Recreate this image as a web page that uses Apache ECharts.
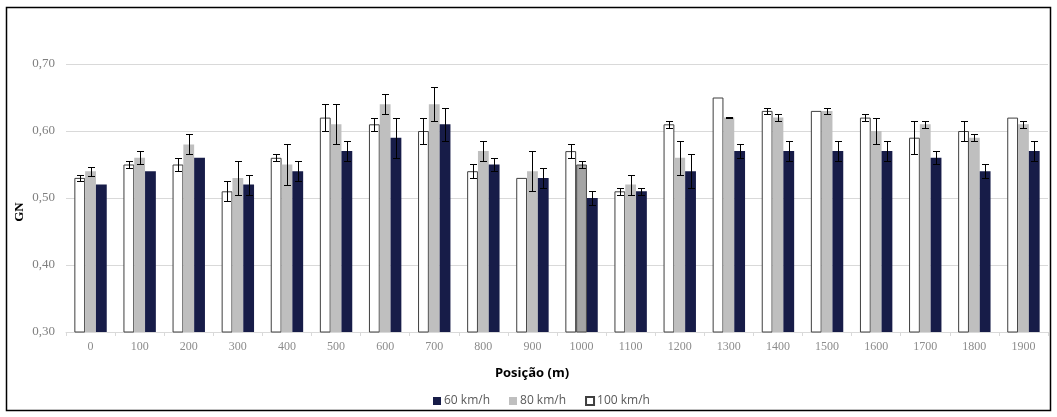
<!DOCTYPE html>
<html>
<head>
<meta charset="utf-8">
<script src="https://cdn.jsdelivr.net/npm/echarts@6/dist/echarts.min.js"></script>
<style>
  html, body { margin: 0; padding: 0; background: #fff; }
  #chart { width: 1057px; height: 417px; }
</style>
</head>
<body>
<div id="chart"></div>
<script>
// Position along the road (m)
const categories = ['0','100','200','300','400','500','600','700','800','900','1000','1100','1200','1300','1400','1500','1600','1700','1800','1900'];

// GN means and error half-widths per speed
const gn100 = [0.53,0.55,0.55,0.51,0.56,0.62,0.61,0.60,0.54,0.53,0.57,0.51,0.61,0.65,0.63,0.63,0.62,0.59,0.60,0.62];
const err100 = [0.005,0.005,0.01,0.015,0.005,0.02,0.01,0.02,0.01,0,0.01,0.005,0.005,0,0.005,0,0.005,0.025,0.015,0];
const gn80 = [0.54,0.56,0.58,0.53,0.55,0.61,0.64,0.64,0.57,0.54,0.55,0.52,0.56,0.62,0.62,0.63,0.60,0.61,0.59,0.61];
const err80 = [0.0065,0.01,0.015,0.025,0.03,0.03,0.015,0.025,0.015,0.03,0.005,0.015,0.025,0.0005,0.005,0.005,0.02,0.005,0.005,0.005];
const gn60 = [0.52,0.54,0.56,0.52,0.54,0.57,0.59,0.61,0.55,0.53,0.50,0.51,0.54,0.57,0.57,0.57,0.57,0.56,0.54,0.57];
const err60 = [0,0,0,0.015,0.015,0.015,0.03,0.025,0.01,0.015,0.01,0.005,0.025,0.01,0.015,0.015,0.015,0.01,0.01,0.015];

const yTicks = [0.30, 0.40, 0.50, 0.60, 0.70];

const BAR_FRAC = 0.22;          // share of the category band per bar
const SERIF = '"Liberation Serif", "DejaVu Serif", serif';
const SANS = '"Open Sans", "Liberation Sans", sans-serif';

// Series in drawing order (left to right inside a group)
const speeds = [
  { name: '100 km/h', values: gn100, errs: err100, style: { color: '#ffffff', borderColor: '#3f3f3f', borderWidth: 1 } },
  { name: '80 km/h',  values: gn80,  errs: err80,  style: { color: '#bfbfbf' } },
  { name: '60 km/h',  values: gn60,  errs: err60,  style: { color: '#171c48' } }
];

// the 80 km/h bar at 1000 m is drawn in a darker grey
const highlight80 = '1000';

const barSeries = speeds.map(function (s) {
  return {
    name: s.name,
    type: 'bar',
    barWidth: (BAR_FRAC * 100) + '%',
    barGap: '0%',
    itemStyle: s.style,
    emphasis: { disabled: true },
    data: s.values.map(function (v, i) {
      if (s.name === '80 km/h' && categories[i] === highlight80) {
        return { value: v, itemStyle: { color: '#a5a5a5', borderColor: '#4a4a4a', borderWidth: 1 } };
      }
      return v;
    })
  };
});

const errData = [];
speeds.forEach(function (s, si) {
  s.values.forEach(function (v, i) {
    if (s.errs[i] > 0) errData.push([i, v, s.errs[i], si]);
  });
});

const errSeries = {
  type: 'custom',
  name: 'err',
  z: 5,
  silent: true,
  encode: { x: 0, y: 1 },
  data: errData,
  renderItem: function (params, api) {
    const ci = api.value(0), v = api.value(1), e = api.value(2), si = api.value(3);
    const band = api.size([1, 0])[0];
    const x = Math.round(api.coord([ci, v])[0] + (si - 1) * band * BAR_FRAC) + 0.5;
    const yTop = Math.round(api.coord([ci, v + e])[1]) + 0.5;
    const yBot = Math.round(api.coord([ci, v - e])[1]) + 0.5;
    const hw = 3.5;
    const st = { stroke: '#000', lineWidth: 1 };
    return {
      type: 'group',
      children: [
        { type: 'line', shape: { x1: x, y1: yTop, x2: x, y2: yBot }, style: st },
        { type: 'line', shape: { x1: x - hw, y1: yTop, x2: x + hw, y2: yTop }, style: st },
        { type: 'line', shape: { x1: x - hw, y1: yBot, x2: x + hw, y2: yBot }, style: st }
      ]
    };
  }
};

const chart = echarts.init(document.getElementById('chart'), null, { renderer: 'canvas' });

chart.setOption({
  animation: false,
  backgroundColor: '#ffffff',
  grid: { left: 66, right: 9, top: 64, bottom: 85, containLabel: false },
  legend: {
    data: ['60 km/h', '80 km/h', '100 km/h'],
    left: 428,
    top: 390,
    icon: 'rect',
    itemWidth: 8,
    itemHeight: 8,
    itemGap: 19,
    textStyle: { color: '#595959', fontSize: 12, fontFamily: SANS, padding: [0, 0, 0, -2] },
    selectedMode: false
  },
  xAxis: {
    type: 'category',
    data: categories,
    axisLine: { show: true, lineStyle: { color: '#d9d9d9', width: 1 } },
    axisTick: { show: true, alignWithLabel: false, length: 4, lineStyle: { color: '#d9d9d9' } },
    axisLabel: { color: '#8c8c8c', fontSize: 12, fontFamily: SERIF, margin: 9 }
  },
  yAxis: {
    type: 'value',
    min: yTicks[0],
    max: yTicks[yTicks.length - 1],
    interval: 0.1,
    axisLine: { show: false },
    axisTick: { show: false },
    splitLine: { lineStyle: { color: '#d9d9d9', width: 1 } },
    axisLabel: {
      color: '#7f7f7f',
      fontSize: 13,
      fontFamily: SERIF,
      margin: 11,
      formatter: function (v) { return v.toFixed(2).replace('.', ','); }
    }
  },
  graphic: [
    {
      type: 'rect',
      shape: { x: 6.5, y: 7.5, width: 1044, height: 403 },
      style: { fill: 'none', stroke: '#000', lineWidth: 1.5 },
      silent: true
    },
    {
      type: 'text',
      x: 20, y: 212,
      rotation: Math.PI / 2,
      style: {
        text: 'GN', fill: '#000', font: 'bold 13px ' + SERIF,
        align: 'center', verticalAlign: 'middle'
      }
    },
    {
      type: 'text',
      x: 532, y: 373,
      style: {
        text: 'Posição (m)', fill: '#000', font: 'bold 13px ' + SANS,
        align: 'center', verticalAlign: 'middle'
      }
    }
  ],
  series: barSeries.concat([errSeries])
});
</script>
</body>
</html>
